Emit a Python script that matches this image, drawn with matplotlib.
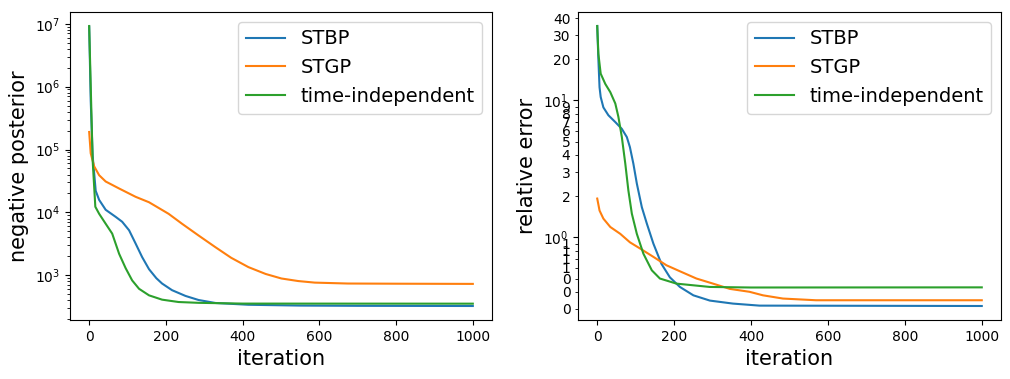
import matplotlib
matplotlib.use("Agg")
import matplotlib.pyplot as plt
from matplotlib.ticker import FormatStrFormatter

labels = ["STBP", "STGP", "time-independent"]
colors = ["#1f77b4", "#ff7f0e", "#2ca02c"]

# ---- left panel: negative posterior ----
post_stbp_it = [0, 4, 9, 17, 26, 43, 69, 86, 104, 121, 138, 156, 175, 190, 216, 251, 285, 329, 415, 550, 700, 1000]
post_stbp = [9.0e6, 6.0e5, 8.0e4, 2.2e4, 1.58e4, 1.1e4, 8.5e3, 7.1e3, 5.2e3, 3.2e3, 1.95e3, 1.25e3,
             900, 740, 580, 470, 405, 363, 340, 330, 327, 325]
post_stgp_it = [0, 4, 13, 26, 43, 78, 121, 156, 207, 242, 285, 329, 370, 415, 460, 501, 545, 588, 674, 804, 1000]
post_stgp = [1.9e5, 8.7e4, 5.4e4, 3.9e4, 3.1e4, 2.4e4, 1.77e4, 1.45e4, 9.5e3, 6.6e3, 4.3e3, 2.8e3,
             1.9e3, 1.35e3, 1.05e3, 890, 810, 765, 740, 735, 730]
post_ti_it = [0, 5, 9, 16, 26, 43, 60, 78, 95, 112, 130, 156, 190, 233, 285, 400, 1000]
post_ti = [9.2e6, 6.0e5, 6.8e4, 1.23e4, 9.5e3, 6.6e3, 4.6e3, 2.2e3, 1.3e3, 830, 610, 480, 410, 376,
           365, 355, 354]

# ---- right panel: relative error ----
err_stbp_it = [0, 3, 6, 9, 16, 29, 47, 64, 77, 85, 94, 103, 116, 129, 146, 167, 189, 215, 250, 293,
               353, 422, 1000]
err_stbp = [35, 20, 12.5, 10.6, 8.9, 7.8, 6.95, 6.2, 5.4, 4.56, 3.45, 2.47, 1.66, 1.26, 0.90, 0.64,
            0.51, 0.434, 0.377, 0.345, 0.328, 0.317, 0.315]
err_stgp_it = [0, 6, 16, 34, 60, 85, 111, 146, 180, 215, 258, 300, 345, 396, 431, 483, 569, 1000]
err_stgp = [1.92, 1.57, 1.37, 1.19, 1.06, 0.92, 0.83, 0.72, 0.625, 0.565, 0.50, 0.46, 0.42, 0.40,
            0.377, 0.357, 0.347, 0.347]
err_ti_it = [0, 3, 9, 21, 34, 47, 55, 64, 73, 81, 90, 103, 120, 142, 163, 206, 293, 400, 1000]
err_ti = [35, 21.9, 15.7, 13.2, 11.5, 9.5, 7.6, 5.4, 3.45, 2.2, 1.49, 1.06, 0.76, 0.574, 0.50,
          0.459, 0.434, 0.43, 0.431]

fig = plt.figure(figsize=(10.1, 3.79), dpi=100)
ax1 = fig.add_axes([70 / 1010, 1 - 320 / 379, 422 / 1010, 308 / 379])
ax2 = fig.add_axes([578 / 1010, 1 - 320 / 379, 423 / 1010, 308 / 379])

for it, v, lab, c in zip([post_stbp_it, post_stgp_it, post_ti_it],
                         [post_stbp, post_stgp, post_ti], labels, colors):
    ax1.plot(it, v, color=c, label=lab, lw=1.5)
ax1.set_yscale("log")
ax1.set_xlabel("iteration", fontsize=15)
ax1.set_ylabel("negative posterior", fontsize=15)
ax1.legend(fontsize=14, loc="upper right")

for it, v, lab, c in zip([err_stbp_it, err_stgp_it, err_ti_it],
                         [err_stbp, err_stgp, err_ti], labels, colors):
    ax2.plot(it, v, color=c, label=lab, lw=1.5)
ax2.set_yscale("log")
ax2.yaxis.set_minor_formatter(FormatStrFormatter("%.0f"))
ax2.set_xlabel("iteration", fontsize=15)
ax2.set_ylabel("relative error", fontsize=15)
ax2.legend(fontsize=14, loc="upper right")

for ax in (ax1, ax2):
    ax.set_xticks([0, 200, 400, 600, 800, 1000])

fig.savefig("out.png", dpi=100)
